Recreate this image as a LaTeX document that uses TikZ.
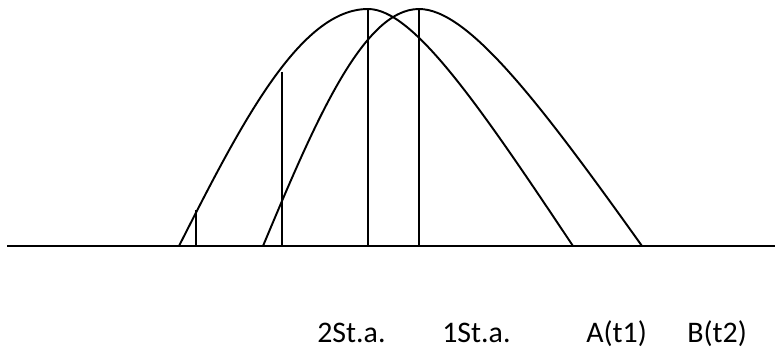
\documentclass[tikz,border=0pt]{standalone}
\usepackage{fontspec}
\setmainfont{Carlito}
\usetikzlibrary{calc}
\tikzset{
  axisln/.style={line width=1.3pt, black},
  curveln/.style={line width=1.1pt, line join=round},
  stemln/.style={line width=1.1pt},
  lbl/.style={anchor=base west, inner sep=0pt, font=\fontsize{17}{20}\selectfont},
}

\begin{document}
\begin{tikzpicture}[x=0.02cm, y=-0.02cm]
  \useasboundingbox (0,0) rectangle (775,351);
  % ground line
  \coordinate (gl) at (7,246);
  \coordinate (gr) at (775,246);
  \draw[axisln] (gl) -- (gr);
  % peaks of the two waves
  \coordinate (top2) at (368,9);
  \coordinate (top1) at (419,9);
  % wave at the 2nd station
  \draw[curveln] (179,246) .. controls (240.6,124.7) and (299.6,9) .. (top2)
     .. controls (413,9) and (478,103.5) .. (573,246);
  % wave at the 1st station
  \draw[curveln] (263,246) .. controls (313.9,124.7) and (362.5,9) .. (top1)
     .. controls (468,9) and (539,101.8) .. (642,246);
  % stems down to the ground line
  \foreach \x/\h in {196/210, 282/72, 368/9, 419/9}
    \draw[stemln] (\x,\h) -- (\x,\h |- gl);
  % labels
  \foreach \x/\lab/\nm in {317/2St.a./st2, 442/1St.a./st1, 586/A(t1)/ta, 687/B(t2)/tb}
    \node[lbl] (\nm) at (\x,343) {\lab};
\end{tikzpicture}
\end{document}
